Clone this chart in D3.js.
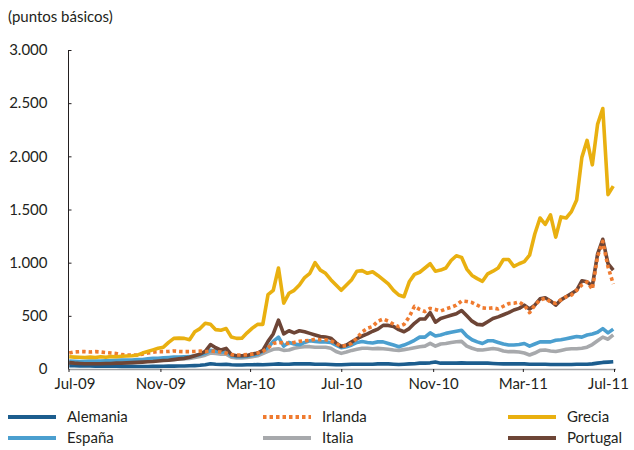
<!DOCTYPE html>
<html>
<head>
<meta charset="utf-8">
<script src="https://cdn.jsdelivr.net/npm/d3@7"></script>
<style>
  body { margin: 0; background: #fff; }
  text { font-family: Lato, "Open Sans", sans-serif; fill: #231f20; }
</style>
</head>
<body>
<div id="chart"></div>
<script>
// weekly observations, Jul-09 .. Jun-11 (puntos básicos)
var startDate = new Date(2009, 6, 2);
var nWeeks = 105;

var alemania = [30,30,28,28,28,27,27,26,26,26,25,25,25,24,24,24,25,25,26,27,27,
  28,28,30,32,35,40,50,45,42,45,40,38,38,40,40,42,40,42,45,48,
  45,45,48,50,48,48,45,45,45,42,40,40,42,45,45,45,45,45,48,48,48,45,42,45,
  48,50,55,55,58,65,55,55,55,55,58,55,55,55,55,55,52,50,48,48,48,48,48,
  45,45,45,45,42,42,42,42,42,45,45,45,48,55,62,65,68];

var irlanda = [150,160,163,163,160,163,160,155,150,145,135,132,130,132,140,150,158,163,163,165,170,
  165,163,163,165,168,163,170,165,160,150,135,132,132,135,140,150,165,200,240,250,
  245,240,250,260,265,270,280,275,275,265,240,215,220,241,290,350,383,400,450,470,
  450,420,398,420,490,590,560,540,570,560,545,565,580,600,640,635,625,600,575,570,
  575,565,590,615,618,630,600,530,600,650,665,630,618,650,680,695,740,790,820,750,
  1060,1200,960,800];

var grecia = [115,112,110,108,112,108,115,110,118,115,120,122,125,130,150,165,180,195,205,250,288,
  290,288,275,350,380,430,420,370,365,380,300,288,290,340,384,420,420,700,740,950,
  620,712,740,790,860,900,1000,930,900,840,790,740,790,840,920,925,900,915,880,840,
  800,740,696,680,820,890,910,950,990,920,930,950,1020,1065,1050,940,880,850,825,895,
  920,950,1030,1030,965,990,1010,1070,1270,1420,1360,1450,1240,1430,1420,1480,1590,1990,2150,1920,
  2300,2450,1640,1720];

var espana = [75,72,70,72,75,75,75,78,80,82,85,85,85,88,90,95,100,100,105,108,112,
  112,115,116,125,135,147,175,168,160,162,125,116,116,120,130,140,165,200,260,300,
  215,250,235,228,250,265,260,255,255,250,225,200,210,226,250,258,250,245,255,255,
  240,225,210,225,245,270,300,300,340,310,320,335,345,355,365,310,275,255,240,265,
  265,250,235,226,226,230,240,215,235,255,255,255,270,275,285,295,305,300,320,330,
  345,380,340,375];

var italia = [65,60,58,58,60,60,62,65,65,68,70,70,72,75,78,80,82,85,88,90,92,
  95,98,100,108,118,130,150,145,140,140,110,105,105,108,115,125,145,165,185,190,
  175,178,195,205,210,210,205,205,205,195,165,147,160,175,185,195,195,190,194,190,
  185,178,175,182,190,200,210,215,241,215,235,240,250,257,260,215,195,180,178,185,
  192,185,170,163,163,160,150,132,150,175,178,170,165,175,185,190,190,195,205,230,
  265,300,280,320];

var portugal = [60,55,52,50,50,50,50,52,52,55,55,58,60,62,65,68,70,75,80,82,88,
  95,100,110,125,140,165,230,200,178,194,135,125,125,128,140,150,175,260,330,460,
  330,360,340,360,350,335,320,305,300,290,245,212,225,255,285,310,330,355,375,410,
  410,400,370,350,380,430,470,470,530,440,475,490,505,520,550,500,450,420,415,445,
  475,490,510,530,555,570,600,565,600,660,670,640,600,650,680,710,740,830,820,780,
  1080,1220,990,930];

var tickDates = [new Date(2009, 6, 1), new Date(2009, 10, 1), new Date(2010, 2, 1),
  new Date(2010, 6, 1), new Date(2010, 10, 1), new Date(2011, 2, 1), new Date(2011, 6, 1)];
var tickLabels = ["Jul-09", "Nov-09", "Mar-10", "Jul-10", "Nov-10", "Mar-11", "Jul-11"];
var yTicks = [0, 500, 1000, 1500, 2000, 2500, 3000];

var dates = d3.range(nWeeks).map(function(i) { return d3.timeDay.offset(startDate, 7 * i); });

// draw order matters: gold on top, dotted orange above brown
var series = [
  { name: "Alemania", values: alemania, color: "#1c5d8e", dash: null },
  { name: "Italia",   values: italia,   color: "#a7a9ac", dash: null },
  { name: "España",   values: espana,   color: "#4b9fcf", dash: null },
  { name: "Portugal", values: portugal, color: "#6d4536", dash: null },
  { name: "Irlanda",  values: irlanda,  color: "#ef7b30", dash: "3.5,3" },
  { name: "Grecia",   values: grecia,   color: "#e9b010", dash: null }
];

var svgWidth = 634, svgHeight = 450;
var svg = d3.select("#chart").append("svg")
  .attr("width", svgWidth)
  .attr("height", svgHeight);

var x = d3.scaleTime()
  .domain([tickDates[0], tickDates[tickDates.length - 1]])
  .range([68.5, 614]);

var y = d3.scaleLinear()
  .domain([0, 3000])
  .range([369, 50]);

var es = d3.formatLocale({ decimal: ",", thousands: ".", grouping: [3], currency: ["", " €"] });
var fmt = es.format(",");

// unit label
svg.append("text")
  .attr("x", 8)
  .attr("y", 22)
  .style("font-size", "15px")
  .text("(puntos básicos)");

// y axis, ticks pointing inwards
var yAxis = svg.append("g")
  .attr("transform", "translate(68.5,0)")
  .call(d3.axisLeft(y).tickValues(yTicks).tickFormat(fmt).tickSizeInner(-3).tickSizeOuter(0).tickPadding(21));
yAxis.select(".domain").attr("stroke", "#231f20").attr("d", "M0," + y(3000) + "V" + y(0));
yAxis.selectAll(".tick line").attr("stroke", "#231f20");
yAxis.selectAll(".tick text").style("font-size", "15px").attr("fill", "#231f20");

// lines
var line = d3.line()
  .x(function(d, i) { return x(dates[i]); })
  .y(function(d) { return y(d); })
  .curve(d3.curveLinear);

series.forEach(function(s) {
  svg.append("path")
    .datum(s.values)
    .attr("fill", "none")
    .attr("stroke", s.color)
    .attr("stroke-width", 3.6)
    .attr("stroke-linejoin", "round")
    .attr("stroke-dasharray", s.dash)
    .attr("d", line);
});

// x axis
svg.append("line")
  .attr("x1", 68.5).attr("x2", 616)
  .attr("y1", 369.5).attr("y2", 369.5)
  .attr("stroke", "#9d9fa2")
  .attr("stroke-width", 1.5);

var xAxis = svg.append("g")
  .attr("transform", "translate(0,369)")
  .call(d3.axisBottom(x).tickValues(tickDates).tickSizeInner(3).tickSizeOuter(0).tickPadding(6)
    .tickFormat(function(d, i) { return tickLabels[i]; }));
xAxis.select(".domain").remove();
xAxis.selectAll(".tick line").attr("stroke", "#231f20");
xAxis.selectAll(".tick text")
  .style("font-size", "15px")
  .attr("fill", "#231f20")
  .attr("dx", function(d, i) { return i === 0 ? 6 : (i === tickLabels.length - 1 ? -6 : 0); });

// legend, 3 columns x 2 rows
var legendOrder = ["Alemania", "Irlanda", "Grecia", "España", "Italia", "Portugal"];
var colX = [8, 263, 508];
var rowY = [417, 438];
legendOrder.forEach(function(name, k) {
  var s = series.filter(function(d) { return d.name === name; })[0];
  var cx = colX[k % 3], cy = rowY[Math.floor(k / 3)];
  svg.append("line")
    .attr("x1", cx).attr("x2", cx + 48)
    .attr("y1", cy).attr("y2", cy)
    .attr("stroke", s.color)
    .attr("stroke-width", 4)
    .attr("stroke-dasharray", s.dash);
  svg.append("text")
    .attr("x", cx + 59)
    .attr("y", cy + 5)
    .style("font-size", "15px")
    .text(name);
});
</script>
</body>
</html>
